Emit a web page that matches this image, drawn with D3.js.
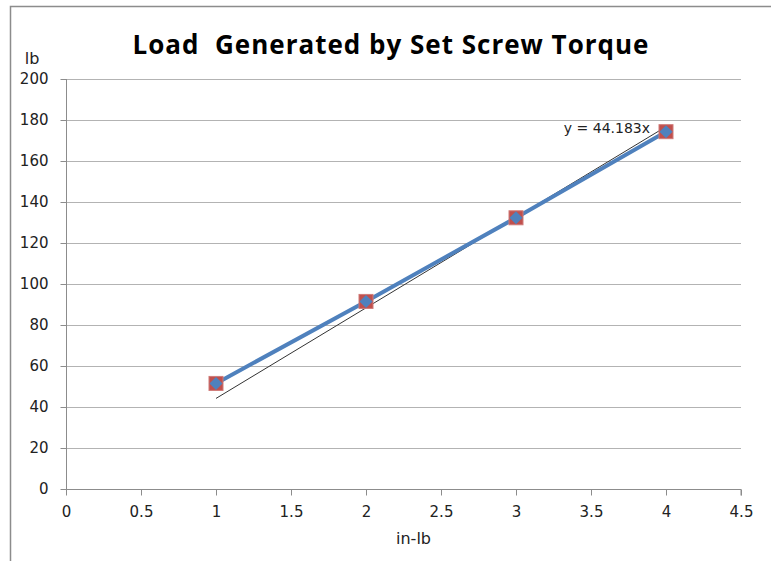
<!DOCTYPE html>
<html>
<head>
<meta charset="utf-8">
<script src="https://cdn.jsdelivr.net/npm/d3@7"></script>
<style>
  body { margin: 0; background: #fff; }
  svg { display: block; }
</style>
</head>
<body>
<svg id="chart" width="771" height="561"></svg>
<script>
// torque (in-lb) vs load (lb)
const torque = [1, 2, 3, 4];
const load = [51.5, 91.5, 132.3, 174.3];
const slope = 44.183; // linear trendline through origin
const xTicks = [0, 0.5, 1, 1.5, 2, 2.5, 3, 3.5, 4, 4.5];
const yTicks = [0, 20, 40, 60, 80, 100, 120, 140, 160, 180, 200];

const svg = d3.select('#chart');
const plotL = 66, plotR = 741, plotT = 79, plotB = 489;

const x = d3.scaleLinear().domain([0, 4.5]).range([plotL, plotR]);
const y = d3.scaleLinear().domain([0, 200]).range([plotB, plotT]);

// outer border of the chart object
svg.append('rect')
  .attr('x', 10.5).attr('y', 6.5)
  .attr('width', 800).attr('height', 600)
  .attr('fill', 'none').attr('stroke', '#8c8c8c').attr('stroke-width', 1.5);

// horizontal gridlines
svg.append('g')
  .selectAll('line')
  .data(yTicks.filter(d => d > 0))
  .join('line')
    .attr('x1', plotL).attr('x2', plotR)
    .attr('y1', d => Math.round(y(d)) + 0.5)
    .attr('y2', d => Math.round(y(d)) + 0.5)
    .attr('stroke', '#b3b3b3').attr('stroke-width', 1);

// axes
let yAxis = svg.append('g')
  .attr('transform', `translate(${plotL + 0.5},0)`)
  .call(d3.axisLeft(y).tickValues(yTicks).tickSize(6).tickPadding(12).tickFormat(d3.format('d')));
let xAxis = svg.append('g')
  .attr('transform', `translate(0,${plotB + 0.5})`)
  .call(d3.axisBottom(x).tickValues(xTicks).tickSize(6).tickPadding(11).tickFormat(d => String(d)));

[yAxis, xAxis].forEach(a => {
  a.select('.domain').attr('stroke', '#8c8c8c');
  a.selectAll('.tick line').attr('stroke', '#8c8c8c');
  a.selectAll('text')
    .attr('font-family', 'DejaVu Sans, sans-serif')
    .attr('font-size', 15)
    .attr('fill', '#222');
});
yAxis.select('.domain').attr('d', `M0,${plotB}V${plotT}`);
xAxis.select('.domain').attr('d', `M${plotL},0H${plotR}V6`);

// trendline
svg.append('line')
  .attr('x1', x(torque[0])).attr('y1', y(slope * torque[0]))
  .attr('x2', x(torque[torque.length - 1])).attr('y2', y(slope * torque[torque.length - 1]))
  .attr('stroke', '#333').attr('stroke-width', 1);

// series line
const line = d3.line().x((d, i) => x(torque[i])).y(d => y(d));
svg.append('path')
  .datum(load)
  .attr('d', line)
  .attr('fill', 'none')
  .attr('stroke', '#4f81bd')
  .attr('stroke-width', 4);

// markers: red square with blue diamond
const pts = svg.append('g').selectAll('g')
  .data(load)
  .join('g')
    .attr('transform', (d, i) => `translate(${x(torque[i])},${y(d)})`);
pts.append('rect')
  .attr('x', -7).attr('y', -7).attr('width', 14).attr('height', 14)
  .attr('fill', '#c0504d').attr('stroke', '#d07a78').attr('stroke-width', 1);
pts.append('path')
  .attr('d', 'M0,-6.5L6.5,0L0,6.5L-6.5,0Z')
  .attr('fill', '#4f81bd');

// trendline label
svg.append('text')
  .attr('x', 650).attr('y', 133)
  .attr('text-anchor', 'end')
  .attr('font-family', 'DejaVu Sans, sans-serif')
  .attr('font-size', 14)
  .attr('fill', '#222')
  .text('y = 44.183x');

// title & axis labels
svg.append('text')
  .attr('x', 391).attr('y', 54)
  .attr('text-anchor', 'middle')
  .attr('font-family', 'Open Sans, sans-serif')
  .attr('font-weight', 'bold')
  .attr('font-size', 26)
  .attr('letter-spacing', 1)
  .attr('fill', '#000')
  .style('white-space', 'pre')
  .text('Load  Generated by Set Screw Torque');

svg.append('text')
  .attr('x', 32).attr('y', 64)
  .attr('text-anchor', 'middle')
  .attr('font-family', 'DejaVu Sans, sans-serif')
  .attr('font-size', 16)
  .attr('fill', '#222')
  .text('lb');

svg.append('text')
  .attr('x', 413.5).attr('y', 544)
  .attr('text-anchor', 'middle')
  .attr('font-family', 'DejaVu Sans, sans-serif')
  .attr('font-size', 16)
  .attr('fill', '#222')
  .text('in-lb');
</script>
</body>
</html>
